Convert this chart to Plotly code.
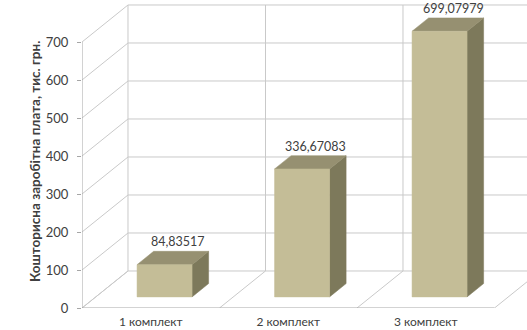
import plotly.graph_objects as go

categories = ["1 комплект", "2 комплект", "3 комплект"]
values = [84.83517, 336.67083, 699.07979]
value_labels = ["84,83517", "336,67083", "699,07979"]
y_ticks = [0, 100, 200, 300, 400, 500, 600, 700]
y_title = "Кошторисна заробітна плата, тис. грн."

# oblique projection parameters (depth offsets in axis units)
DX = 0.3345
DY = 97.4
D0, D1 = 0.30, 0.66
BW = 0.40
YMAX = 700
n = len(categories)

GRID = "#c9c9c9"
AXIS = "#a6a6a6"
FRONT = "#c4bd97"
TOP = "#969071"
SIDE = "#7d795b"

fig = go.Figure()

def line(xs, ys, color, width=1):
    fig.add_trace(go.Scatter(x=xs, y=ys, mode="lines",
                             line=dict(color=color, width=width),
                             hoverinfo="skip", showlegend=False))

def poly(xs, ys, color):
    fig.add_trace(go.Scatter(x=xs + [xs[0]], y=ys + [ys[0]], mode="lines",
                             fill="toself", fillcolor=color,
                             line=dict(color=color, width=0.5),
                             hoverinfo="skip", showlegend=False))

# gridlines: left wall diagonals + back wall horizontals
for v in y_ticks:
    line([0, DX, n + DX + 1], [v, v + DY, v + DY], GRID)
# back wall verticals
for i in range(n + 1):
    line([i + DX, i + DX], [DY, YMAX + DY], GRID)
# floor diagonals
for i in range(n + 1):
    line([i, i + DX], [0, DY], GRID)
# front floor edge and left axis line
line([0, n], [0, 0], AXIS)
line([0, 0], [0, YMAX], AXIS)
# ticks at floor front
for i in range(n + 1):
    line([i, i], [0, -10], AXIS)

# bars
for i, v in enumerate(values):
    xl = i + 0.5 - BW / 2 + D0 * DX
    xr = i + 0.5 + BW / 2 + D0 * DX
    yb = D0 * DY
    yt = v + D0 * DY
    ddx = (D1 - D0) * DX
    ddy = (D1 - D0) * DY
    poly([xr, xr, xr + ddx, xr + ddx], [yb, yt, yt + ddy, yb + ddy], SIDE)
    poly([xl, xr, xr + ddx, xl + ddx], [yt, yt, yt + ddy, yt + ddy], TOP)
    poly([xl, xr, xr, xl], [yb, yb, yt, yt], FRONT)
    fig.add_annotation(x=i + 0.5 + D1 * DX * 0.9, y=v + D1 * DY, text=value_labels[i],
                       showarrow=False, yanchor="bottom", yshift=0,
                       font=dict(size=12.5, color="#404040", family="Lato"))

fig.add_annotation(xref="paper", yref="paper", x=-0.128, y=0.474, text="<b>" + y_title + "</b>",
                   textangle=-90, showarrow=False,
                   font=dict(size=13.5, color="#404040", family="Lato"))

fig.update_layout(
    width=527, height=330,
    margin=dict(l=82, r=0, t=0, b=22),
    paper_bgcolor="white", plot_bgcolor="white",
    font=dict(family="Lato", color="#404040", size=11),
    xaxis=dict(range=[0, 445 / 137.5], showgrid=False, zeroline=False,
               tickmode="array", tickvals=[0.5 + k for k in range(n)],
               ticktext=categories, ticks="", showline=False, automargin=False,
               ticklabelstandoff=5, tickfont=dict(size=12)),
    yaxis=dict(range=[0, 308 / 0.38], showgrid=False, zeroline=False,
               tickmode="array", tickvals=y_ticks, ticks="outside", ticklen=4,
               tickcolor=AXIS, showline=False, ticklabelstandoff=6, automargin=False,
               tickfont=dict(size=13)),
    showlegend=False,
)

fig.write_html("out.html")
